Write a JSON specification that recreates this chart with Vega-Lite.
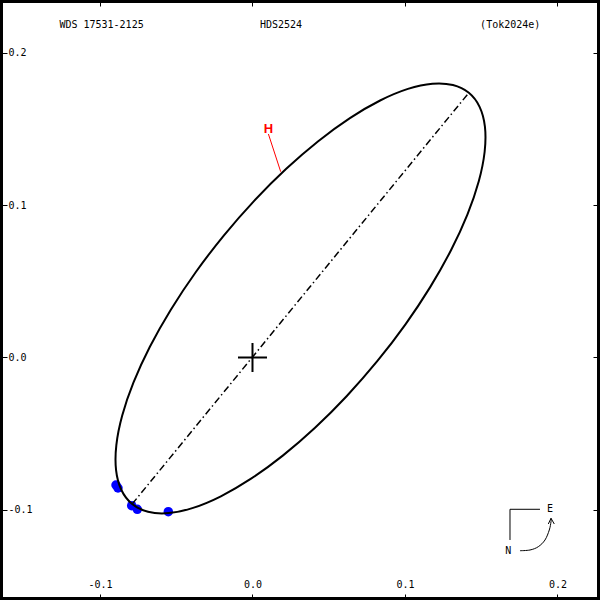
{
  "$schema": "https://vega.github.io/schema/vega-lite/v6.json",
  "width": 600,
  "height": 600,
  "autosize": "none",
  "padding": 0,
  "background": "white",
  "config": {
    "view": {"stroke": "black", "strokeWidth": 6},
    "font": "DejaVu Sans Mono",
    "axis": {
      "grid": false,
      "domain": false,
      "title": null,
      "tickColor": "black",
      "tickWidth": 1,
      "labelColor": "black",
      "labelFont": "DejaVu Sans Mono",
      "labelFontSize": 10,
      "labelFlush": false,
      "labelOverlap": false
    }
  },
  "datasets": {
    "orbit": [
      {"i": 0, "x": 0.141859, "y": 0.173588},
      {"i": 1, "x": 0.14892, "y": 0.164387},
      {"i": 2, "x": 0.152412, "y": 0.151367},
      {"i": 3, "x": 0.152229, "y": 0.134927},
      {"i": 4, "x": 0.148378, "y": 0.115564},
      {"i": 5, "x": 0.140975, "y": 0.093868},
      {"i": 6, "x": 0.130244, "y": 0.070496},
      {"i": 7, "x": 0.116512, "y": 0.04616},
      {"i": 8, "x": 0.100197, "y": 0.0216},
      {"i": 9, "x": 0.081793, "y": -0.00244},
      {"i": 10, "x": 0.061861, "y": -0.025228},
      {"i": 11, "x": 0.041004, "y": -0.046072},
      {"i": 12, "x": 0.01986, "y": -0.064338},
      {"i": 13, "x": -0.000933, "y": -0.079472},
      {"i": 14, "x": -0.02074, "y": -0.091014},
      {"i": 15, "x": -0.038961, "y": -0.098613},
      {"i": 16, "x": -0.055042, "y": -0.102037},
      {"i": 17, "x": -0.068494, "y": -0.101185},
      {"i": 18, "x": -0.078909, "y": -0.09608},
      {"i": 19, "x": -0.08597, "y": -0.086879},
      {"i": 20, "x": -0.089462, "y": -0.073859},
      {"i": 21, "x": -0.089279, "y": -0.057419},
      {"i": 22, "x": -0.085428, "y": -0.038056},
      {"i": 23, "x": -0.078025, "y": -0.01636},
      {"i": 24, "x": -0.067294, "y": 0.007012},
      {"i": 25, "x": -0.053562, "y": 0.031348},
      {"i": 26, "x": -0.037247, "y": 0.055908},
      {"i": 27, "x": -0.018843, "y": 0.079948},
      {"i": 28, "x": 0.001089, "y": 0.102736},
      {"i": 29, "x": 0.021946, "y": 0.12358},
      {"i": 30, "x": 0.04309, "y": 0.141846},
      {"i": 31, "x": 0.063883, "y": 0.15698},
      {"i": 32, "x": 0.08369, "y": 0.168522},
      {"i": 33, "x": 0.101911, "y": 0.176121},
      {"i": 34, "x": 0.117992, "y": 0.179545},
      {"i": 35, "x": 0.131444, "y": 0.178693}
    ],
    "apsides": [
      {"x": -0.078909, "y": -0.09608},
      {"x": 0.141859, "y": 0.173588}
    ],
    "obs": [
      {"x": -0.08951, "y": -0.08361},
      {"x": -0.0882, "y": -0.08557},
      {"x": -0.07921, "y": -0.09718},
      {"x": -0.07554, "y": -0.09954},
      {"x": -0.05521, "y": -0.10111}
    ],
    "center": [{"x": 0, "y": 0}],
    "titles": [
      {"x": -0.099, "y": 0.218, "text": "WDS 17531-2125"},
      {"x": 0.0187, "y": 0.218, "text": "HDS2524"},
      {"x": 0.169, "y": 0.218, "text": "(Tok2024e)"}
    ],
    "hlabel": [{"x": 0.01049, "y": 0.14984, "text": "H"}],
    "hline": [
      {"x": 0.01043, "y": 0.14656},
      {"x": 0.01849, "y": 0.12184}
    ],
    "corner": [
      {"i": 1, "x": 0.18852, "y": -0.09954},
      {"i": 2, "x": 0.16885, "y": -0.09954},
      {"i": 3, "x": 0.16885, "y": -0.11967}
    ],
    "curve": [
      {"i": 1, "x": 0.17541, "y": -0.12669},
      {"i": 2, "x": 0.18197, "y": -0.12623},
      {"i": 3, "x": 0.18741, "y": -0.12407},
      {"i": 4, "x": 0.1918, "y": -0.11967},
      {"i": 5, "x": 0.19462, "y": -0.11311},
      {"i": 6, "x": 0.19574, "y": -0.10767},
      {"i": 7, "x": 0.19574, "y": -0.10544}
    ],
    "arrowhead": [
      {"i": 1, "x": 0.19397, "y": -0.10918},
      {"i": 2, "x": 0.19574, "y": -0.10544},
      {"i": 3, "x": 0.1979, "y": -0.10918}
    ],
    "compassText": [
      {"x": 0.1951, "y": -0.09954, "text": "E"},
      {"x": 0.1677, "y": -0.12689, "text": "N"}
    ]
  },
  "layer": [
    {
      "data": {"name": "obs"},
      "mark": {"type": "point", "shape": "circle", "filled": true, "color": "#0000ff", "size": 90, "opacity": 1},
      "encoding": {
        "x": {"field": "x", "type": "quantitative", "scale": {"domain": [-0.16557, 0.22787], "nice": false, "zero": false},
          "axis": {"orient": "top", "offset": -600, "values": [-0.1, 0, 0.1, 0.2], "tickSize": 6, "labelPadding": 5,
            "labelExpr": "datum.value < 0 ? '-' + format(-datum.value, '.1f') : format(datum.value, '.1f')"}},
        "y": {"field": "y", "type": "quantitative", "scale": {"domain": [-0.15902, 0.23443], "nice": false, "zero": false},
          "axis": {"orient": "right", "offset": -600, "values": [-0.1, 0, 0.1, 0.2], "tickSize": 7, "labelPadding": 1,
            "labelExpr": "datum.value < 0 ? '-' + format(-datum.value, '.1f') : format(datum.value, '.1f')"}}
      }
    },
    {
      "data": {"name": "apsides"},
      "mark": {"type": "line", "color": "black", "strokeWidth": 1.5, "strokeDash": [7, 3, 1.5, 3]},
      "encoding": {
        "x": {"field": "x", "type": "quantitative", "scale": {"domain": [-0.16557, 0.22787], "nice": false, "zero": false},
          "axis": {"orient": "bottom", "offset": -600, "values": [-0.1, 0, 0.1, 0.2], "tickSize": 6, "labels": false}},
        "y": {"field": "y", "type": "quantitative", "scale": {"domain": [-0.15902, 0.23443], "nice": false, "zero": false},
          "axis": {"orient": "left", "offset": -600, "values": [-0.1, 0, 0.1, 0.2], "tickSize": 7, "labels": false}}
      }
    },
    {
      "data": {"name": "orbit"},
      "mark": {"type": "line", "color": "black", "strokeWidth": 2, "interpolate": "cardinal-closed"},
      "encoding": {
        "x": {"field": "x", "type": "quantitative", "axis": null},
        "y": {"field": "y", "type": "quantitative", "axis": null},
        "order": {"field": "i", "type": "quantitative"}
      }
    },
    {
      "data": {"name": "center"},
      "mark": {"type": "point", "shape": "M-1,0L1,0M0,-1L0,1", "size": 841, "filled": false, "color": "black", "strokeWidth": 2, "opacity": 1},
      "encoding": {
        "x": {"field": "x", "type": "quantitative", "axis": null},
        "y": {"field": "y", "type": "quantitative", "axis": null}
      }
    },
    {
      "data": {"name": "hline"},
      "mark": {"type": "line", "color": "#ff0000", "strokeWidth": 1},
      "encoding": {
        "x": {"field": "x", "type": "quantitative", "axis": null},
        "y": {"field": "y", "type": "quantitative", "axis": null}
      }
    },
    {
      "data": {"name": "hlabel"},
      "mark": {"type": "text", "color": "#ff0000", "font": "Liberation Sans", "fontWeight": "bold", "fontSize": 13, "align": "center", "baseline": "middle"},
      "encoding": {
        "x": {"field": "x", "type": "quantitative", "axis": null},
        "y": {"field": "y", "type": "quantitative", "axis": null},
        "text": {"field": "text"}
      }
    },
    {
      "data": {"name": "titles"},
      "mark": {"type": "text", "color": "black", "font": "DejaVu Sans Mono", "fontSize": 10, "align": "center", "baseline": "middle"},
      "encoding": {
        "x": {"field": "x", "type": "quantitative", "axis": null},
        "y": {"field": "y", "type": "quantitative", "axis": null},
        "text": {"field": "text"}
      }
    },
    {
      "data": {"name": "corner"},
      "mark": {"type": "line", "color": "black", "strokeWidth": 1},
      "encoding": {
        "x": {"field": "x", "type": "quantitative", "axis": null},
        "y": {"field": "y", "type": "quantitative", "axis": null},
        "order": {"field": "i", "type": "quantitative"}
      }
    },
    {
      "data": {"name": "curve"},
      "mark": {"type": "line", "color": "black", "strokeWidth": 1, "interpolate": "cardinal"},
      "encoding": {
        "x": {"field": "x", "type": "quantitative", "axis": null},
        "y": {"field": "y", "type": "quantitative", "axis": null},
        "order": {"field": "i", "type": "quantitative"}
      }
    },
    {
      "data": {"name": "arrowhead"},
      "mark": {"type": "line", "color": "black", "strokeWidth": 1},
      "encoding": {
        "x": {"field": "x", "type": "quantitative", "axis": null},
        "y": {"field": "y", "type": "quantitative", "axis": null},
        "order": {"field": "i", "type": "quantitative"}
      }
    },
    {
      "data": {"name": "compassText"},
      "mark": {"type": "text", "color": "black", "font": "DejaVu Sans Mono", "fontSize": 10, "align": "center", "baseline": "middle"},
      "encoding": {
        "x": {"field": "x", "type": "quantitative", "axis": null},
        "y": {"field": "y", "type": "quantitative", "axis": null},
        "text": {"field": "text"}
      }
    }
  ],
  "resolve": {"axis": {"x": "independent", "y": "independent"}}
}
